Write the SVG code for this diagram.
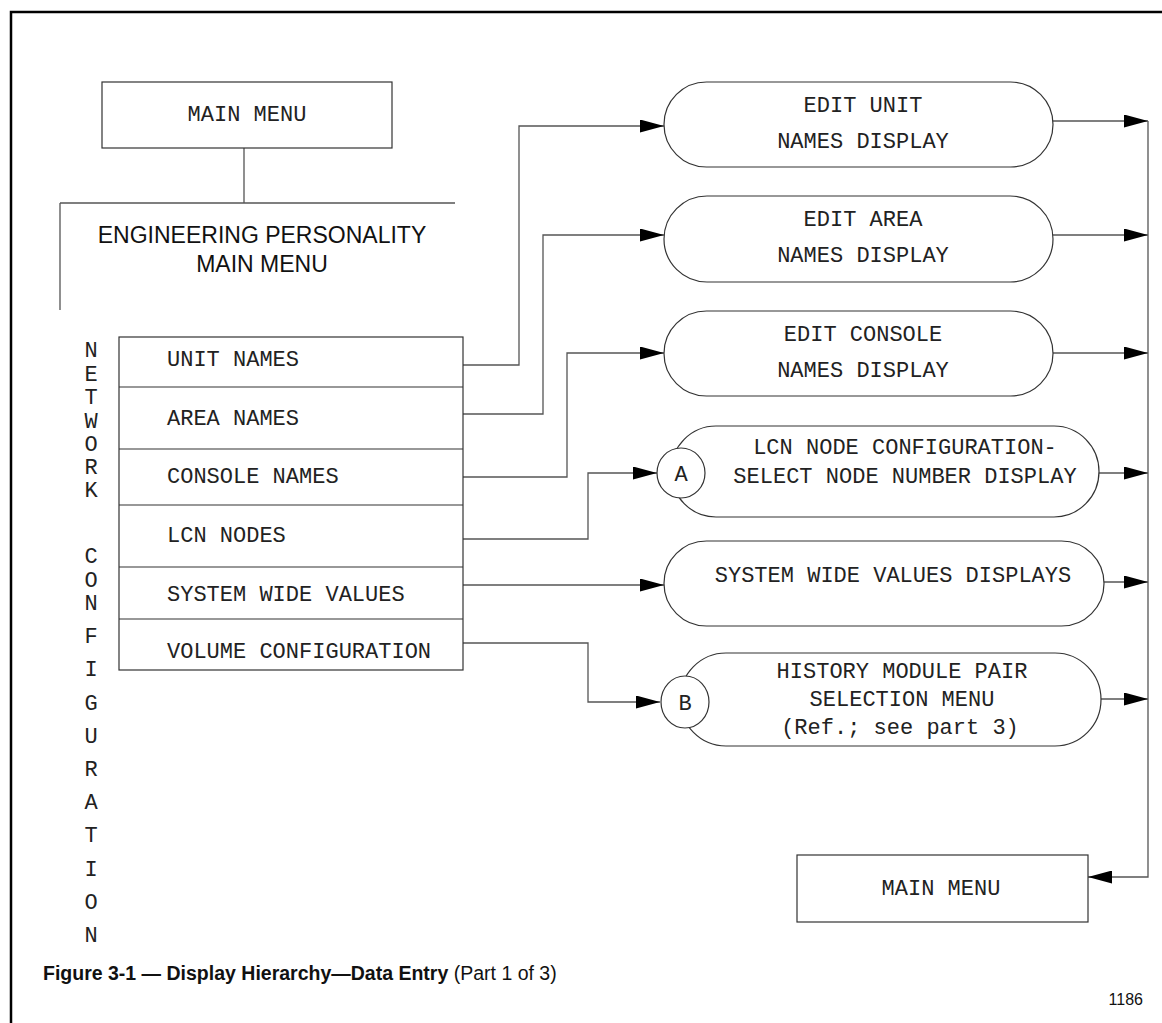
<svg xmlns="http://www.w3.org/2000/svg" width="1162" height="1023" viewBox="0 0 1162 1023">
<style>
.box{fill:#fff;stroke:#333;stroke-width:1.2}
.mono{font-family:"Liberation Mono","Courier New",monospace;font-size:22px;fill:#222}
.mid{text-anchor:middle}
.sans{font-family:"Liberation Sans",Arial,sans-serif;fill:#111}
.conn{fill:none;stroke:#555;stroke-width:1.3}
.arr{marker-end:url(#ah)}
</style>
<defs>
<marker id="ah" markerUnits="userSpaceOnUse" markerWidth="24" markerHeight="13" refX="24" refY="6.5" orient="auto">
<path d="M0,0 L24,6.5 L0,13 Z" fill="#000"/>
</marker>
</defs>
<rect width="1162" height="1023" fill="#fff"/>
<path d="M11,1023 V12 H1162" fill="none" stroke="#000" stroke-width="2.5"/>

<g id="connectors">
<path class="conn" d="M244,148 V203 M60,203 H455 M60,203 V310"/>
<path class="conn arr" d="M463,365 H519 V126 H664"/>
<path class="conn arr" d="M463,414 H543 V235 H664"/>
<path class="conn arr" d="M463,477 H567 V353 H664"/>
<path class="conn arr" d="M463,539 H588 V473 H657"/>
<path class="conn arr" d="M463,585 H664"/>
<path class="conn arr" d="M463,643 H588 V702 H660"/>
<path class="conn arr" d="M1053,121 H1148"/>
<path class="conn arr" d="M1053,235 H1148"/>
<path class="conn arr" d="M1053,353 H1148"/>
<path class="conn arr" d="M1099,473 H1148"/>
<path class="conn arr" d="M1104,582 H1148"/>
<path class="conn arr" d="M1101,699 H1148"/>
<path class="conn arr" d="M1148,121 V877 H1088"/>
</g>

<g id="main-menu-top">
<rect class="box" x="102" y="82" width="290" height="66"/>
<text class="mono mid" x="247" y="121">MAIN MENU</text>
</g>

<g id="eng-personality">
<text class="sans mid" x="262" y="243" font-size="23">ENGINEERING PERSONALITY</text>
<text class="sans mid" x="262" y="272" font-size="23">MAIN MENU</text>
</g>

<g id="network-configuration" class="mono mid">
<text x="91" y="357">N</text>
<text x="91" y="381">E</text>
<text x="91" y="404">T</text>
<text x="91" y="428">W</text>
<text x="91" y="451">O</text>
<text x="91" y="474">R</text>
<text x="91" y="497">K</text>
<text x="91" y="563">C</text>
<text x="91" y="587">O</text>
<text x="91" y="610">N</text>
<text x="91" y="643">F</text>
<text x="91" y="676">I</text>
<text x="91" y="710">G</text>
<text x="91" y="743">U</text>
<text x="91" y="776">R</text>
<text x="91" y="809">A</text>
<text x="91" y="842">T</text>
<text x="91" y="876">I</text>
<text x="91" y="909">O</text>
<text x="91" y="942">N</text>
</g>

<g id="menu-list">
<rect class="box" x="119" y="337" width="344" height="333"/>
<path d="M119,387 H463 M119,449 H463 M119,505 H463 M119,567 H463 M119,619 H463" stroke="#333" stroke-width="1.2"/>
<text class="mono" x="167" y="366">UNIT NAMES</text>
<text class="mono" x="167" y="425">AREA NAMES</text>
<text class="mono" x="167" y="483">CONSOLE NAMES</text>
<text class="mono" x="167" y="542">LCN NODES</text>
<text class="mono" x="167" y="601">SYSTEM WIDE VALUES</text>
<text class="mono" x="167" y="658">VOLUME CONFIGURATION</text>
</g>

<g id="edit-unit">
<rect class="box" x="664" y="82" width="389" height="85" rx="42.5" ry="42.5"/>
<text class="mono mid" x="863" y="112">EDIT UNIT</text>
<text class="mono mid" x="863" y="148">NAMES DISPLAY</text>
</g>

<g id="edit-area">
<rect class="box" x="664" y="196" width="389" height="86" rx="43" ry="43"/>
<text class="mono mid" x="863" y="226">EDIT AREA</text>
<text class="mono mid" x="863" y="262">NAMES DISPLAY</text>
</g>

<g id="edit-console">
<rect class="box" x="664" y="311" width="389" height="85" rx="42.5" ry="42.5"/>
<text class="mono mid" x="863" y="341">EDIT CONSOLE</text>
<text class="mono mid" x="863" y="377">NAMES DISPLAY</text>
</g>

<g id="lcn-node-config">
<rect class="box" x="671" y="426" width="428" height="91" rx="45" ry="45.5"/>
<text class="mono mid" x="905" y="454">LCN NODE CONFIGURATION-</text>
<text class="mono mid" x="905" y="483">SELECT NODE NUMBER DISPLAY</text>
<ellipse class="box" cx="681" cy="473" rx="24" ry="25"/>
<text class="mono mid" x="681" y="481">A</text>
</g>

<g id="system-wide-values">
<rect class="box" x="664" y="541" width="440" height="85" rx="42.5" ry="42.5"/>
<text class="mono mid" x="893" y="582">SYSTEM WIDE VALUES DISPLAYS</text>
</g>

<g id="history-module">
<rect class="box" x="680" y="653" width="421" height="93" rx="46" ry="46.5"/>
<text class="mono mid" x="902" y="678">HISTORY MODULE PAIR</text>
<text class="mono mid" x="902" y="706">SELECTION MENU</text>
<text class="mono mid" x="900" y="734">(Ref.; see part 3)</text>
<ellipse class="box" cx="685" cy="702" rx="24" ry="26"/>
<text class="mono mid" x="685" y="710">B</text>
</g>

<g id="main-menu-bottom">
<rect class="box" x="797" y="855" width="291" height="67"/>
<text class="mono mid" x="941" y="895">MAIN MENU</text>
</g>

<g id="caption">
<text class="sans" x="43" y="980" font-size="19.5"><tspan font-weight="bold">Figure 3-1 — Display Hierarchy—Data Entry</tspan> (Part 1 of 3)</text>
<text class="sans" x="1143" y="1005" font-size="16" text-anchor="end">1186</text>
</g>
</svg>
